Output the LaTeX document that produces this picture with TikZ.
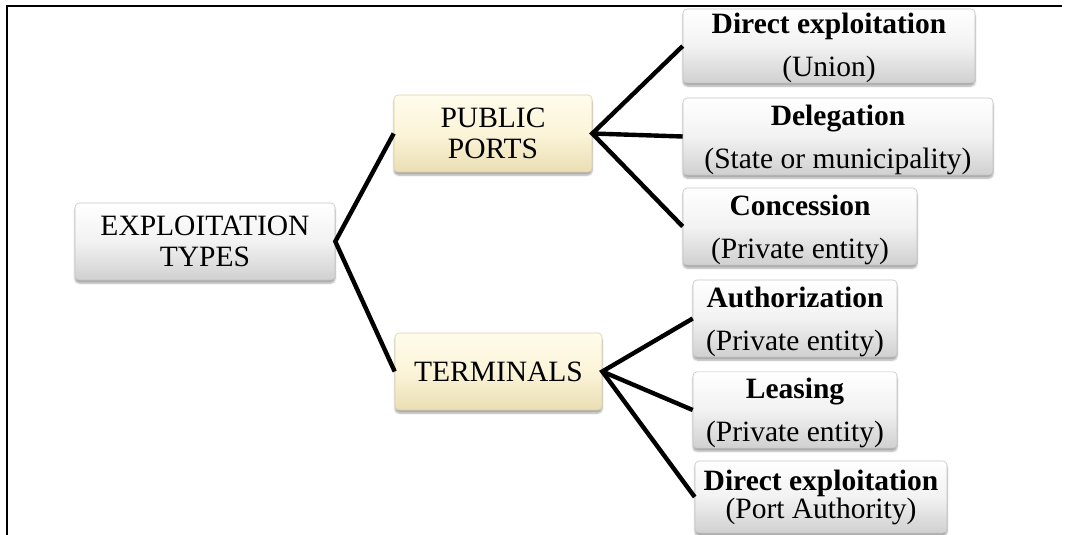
\documentclass[tikz,border=0pt]{standalone}
\usepackage{fontspec}
\setmainfont{Liberation Serif}
\usetikzlibrary{shadows.blur}

\definecolor{boxtop}{RGB}{255,255,255}
\definecolor{boxmid}{RGB}{242,242,242}
\definecolor{boxbot}{RGB}{208,208,208}
\definecolor{boxedge}{RGB}{196,196,196}
\definecolor{creamtop}{RGB}{255,252,236}
\definecolor{creammid}{RGB}{251,244,216}
\definecolor{creambot}{RGB}{234,222,180}
\definecolor{creamedge}{RGB}{220,208,166}

% taller first line, so a two-line label sits a little lower in its box
\newcommand{\highstrut}{\rule{0pt}{27pt}}

\tikzset{
  basebox/.style={rounded corners=4pt, align=center, inner sep=0pt,
    font=\fontsize{29.5}{31}\selectfont,
    blur shadow={shadow xshift=0pt, shadow yshift=-3pt, shadow blur steps=6, shadow opacity=35}},
  graybox/.style={basebox, draw=boxedge, line width=0.6pt,
    top color=boxtop, bottom color=boxbot, middle color=boxmid},
  creambox/.style={basebox, draw=creamedge, line width=0.6pt,
    top color=creamtop, bottom color=creambot, middle color=creammid},
  conn/.style={line width=4.4pt, black},
  frameline/.style={line width=2pt, black}
}

\begin{document}
\begin{tikzpicture}[x=1pt, y=-1pt]
  \useasboundingbox (0,0) rectangle (1074,535);

  % outer frame (top and left rules)
  \draw[frameline] (7,535) -- (7,6) -- (1062,6);

  % root and the two families
  \node[graybox, minimum width=260pt, minimum height=77pt] (et) at (205,241.5)
    {EXPLOITATION\\TYPES};
  \node[creambox, minimum width=198pt, minimum height=77pt] (pp) at (493,133.5)
    {PUBLIC\\PORTS};
  \node[creambox, minimum width=207pt, minimum height=77pt] (tm) at (498.5,371.5)
    {TERMINALS};

  % public ports branches
  \node[graybox, minimum width=292pt, minimum height=74pt] (d1) at (829,46)
    {\rule{0pt}{24pt}\textbf{Direct exploitation}\\[12pt](Union)};
  \node[graybox, minimum width=310pt, minimum height=77pt] (d2) at (838,136.5)
    {\highstrut\textbf{Delegation}\\[12pt](State or municipality)};
  \node[graybox, minimum width=234pt, minimum height=77pt] (d3) at (800,226.5)
    {\highstrut\textbf{Concession}\\[12pt](Private entity)};

  % terminal branches
  \node[graybox, minimum width=204pt, minimum height=77pt] (t1) at (795,318.5)
    {\highstrut\textbf{Authorization}\\[12pt](Private entity)};
  \node[graybox, minimum width=204pt, minimum height=76pt] (t2) at (795,410)
    {\highstrut\textbf{Leasing}\\[12pt](Private entity)};
  \node[graybox, minimum width=252pt, minimum height=72pt] (t3) at (821,497)
    {\textbf{Direct exploitation}\\[-3pt](Port Authority)};

  % connectors
  \draw[conn] (pp.west) -- (et.east) -- (tm.west);
  \draw[conn] (d1.west) -- (pp.east) -- (d3.west);
  \draw[conn] (pp.east) -- (d2.west);
  \draw[conn] (t1.west) -- (tm.east) -- (t3.west);
  \draw[conn] (tm.east) -- (t2.west);
\end{tikzpicture}
\end{document}
